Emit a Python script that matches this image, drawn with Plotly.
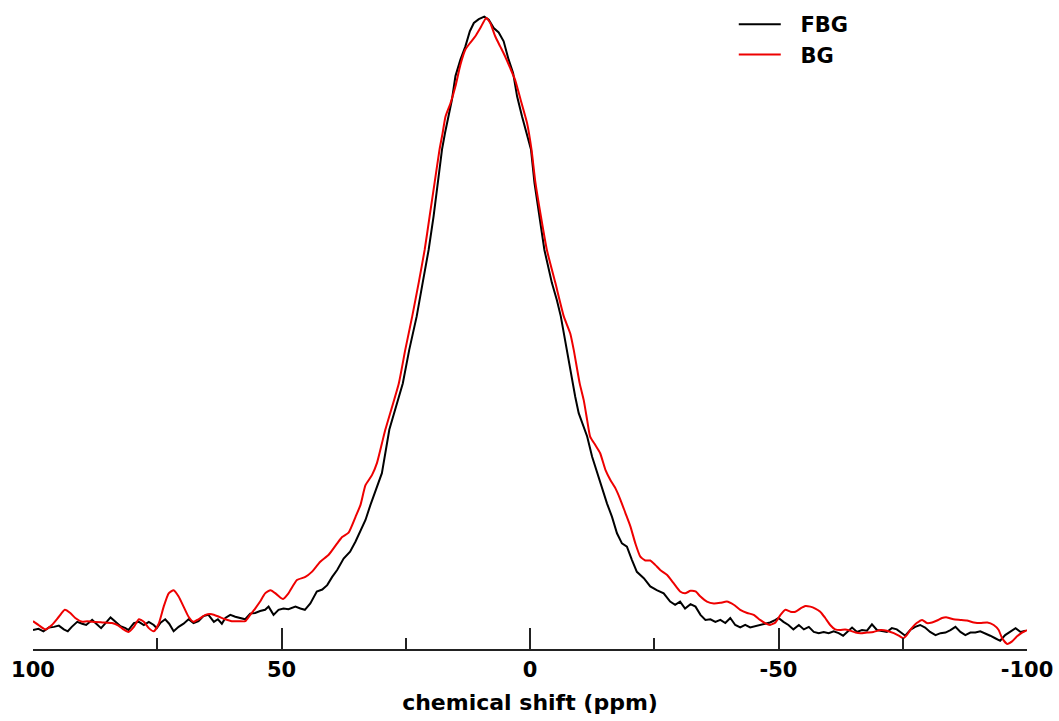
import plotly.graph_objects as go

# FBG spectrum (black), chemical shift in ppm and normalised intensity
fbg_ppm = [100.0, 98.9, 97.9, 96.8, 95.8, 94.8, 93.8, 93.0, 92.2, 91.1, 90.1, 89.3, 88.1, 87.1, 86.3, 85.4,
           84.4, 83.4, 82.4, 81.4, 80.8, 79.7, 78.7, 77.7, 76.7, 75.7, 75.1, 74.4, 73.4, 72.6, 71.7, 70.7,
           69.7, 68.7, 67.7, 66.7, 65.7, 64.7, 63.6, 62.8, 62.0, 61.3, 60.3, 59.3, 58.3, 57.3, 56.3, 55.3,
           54.3, 53.3, 52.6, 51.6, 50.6, 49.6, 48.6, 47.2, 46.2, 45.3, 44.2, 42.9, 41.8, 40.8, 39.8, 38.8,
           37.5, 36.2, 35.1, 34.1, 33.1, 32.1, 31.1, 29.8, 28.3, 25.6, 24.3, 22.8, 21.6, 20.4, 19.4, 18.5,
           17.7, 17.1, 16.4, 15.7, 15.0, 14.0, 13.0, 12.1, 11.3, 10.3, 9.2, 8.3, 7.3, 6.3, 5.3, 4.3,
           3.4, 2.6, 1.6, 0.6, -0.2, -0.9, -1.9, -2.9, -4.4, -5.4, -6.2, -7.4, -8.4, -9.1, -9.8, -10.5,
           -11.5, -12.5, -13.5, -14.5, -15.5, -16.5, -17.5, -18.5, -19.5, -20.5, -21.5, -22.9, -24.2, -25.5,
           -26.9, -28.2, -29.2, -30.2, -31.2, -32.3, -33.3, -34.3, -35.3, -36.3, -37.3, -38.3, -39.3, -40.3,
           -41.3, -42.3, -43.3, -44.3, -45.3, -46.3, -47.3, -48.3, -49.4, -50.0, -51.0, -52.0, -53.0, -54.1,
           -55.1, -56.1, -57.1, -58.1, -59.1, -60.1, -61.1, -62.1, -63.0, -63.9, -64.8, -65.8, -66.8, -67.8,
           -68.8, -69.8, -70.8, -71.8, -72.8, -73.8, -74.85, -75.5, -76.5, -77.5, -78.5, -79.5, -80.5, -81.6,
           -82.6, -83.6, -84.6, -85.6, -86.6, -87.6, -88.6, -89.6, -90.6, -91.6, -92.6, -93.6, -94.6, -95.6,
           -96.6, -97.7, -98.7, -99.7]
fbg_int = [0.030, 0.032, 0.028, 0.034, 0.035, 0.037, 0.031, 0.028, 0.035, 0.043, 0.040, 0.038, 0.046, 0.038, 0.033, 0.041,
           0.050, 0.043, 0.036, 0.033, 0.030, 0.041, 0.043, 0.038, 0.043, 0.038, 0.033, 0.041, 0.047, 0.040, 0.028, 0.035,
           0.040, 0.047, 0.041, 0.044, 0.052, 0.054, 0.043, 0.047, 0.040, 0.049, 0.054, 0.051, 0.049, 0.047, 0.056, 0.057,
           0.060, 0.062, 0.067, 0.054, 0.062, 0.064, 0.063, 0.067, 0.064, 0.062, 0.072, 0.091, 0.094, 0.101, 0.114, 0.125,
           0.143, 0.154, 0.170, 0.186, 0.204, 0.228, 0.249, 0.278, 0.347, 0.420, 0.473, 0.526, 0.579, 0.631, 0.684, 0.737,
           0.790, 0.816, 0.842, 0.869, 0.906, 0.932, 0.953, 0.977, 0.990, 0.996, 1.000, 0.995, 0.982, 0.975, 0.961, 0.932,
           0.911, 0.874, 0.842, 0.811, 0.790, 0.737, 0.684, 0.631, 0.579, 0.552, 0.526, 0.473, 0.426, 0.399, 0.373, 0.357,
           0.336, 0.304, 0.278, 0.252, 0.230, 0.209, 0.183, 0.167, 0.162, 0.141, 0.122, 0.112, 0.099, 0.093,
           0.088, 0.075, 0.070, 0.075, 0.064, 0.071, 0.067, 0.054, 0.046, 0.047, 0.043, 0.046, 0.041, 0.049,
           0.038, 0.034, 0.038, 0.034, 0.036, 0.038, 0.041, 0.042, 0.046, 0.049, 0.043, 0.038, 0.031, 0.038,
           0.031, 0.035, 0.027, 0.025, 0.027, 0.025, 0.028, 0.025, 0.021, 0.027, 0.034, 0.027, 0.030, 0.029,
           0.039, 0.030, 0.028, 0.027, 0.033, 0.031, 0.025, 0.021, 0.030, 0.035, 0.038, 0.034, 0.027, 0.022,
           0.025, 0.026, 0.030, 0.035, 0.027, 0.022, 0.026, 0.026, 0.028, 0.025, 0.021, 0.017, 0.013, 0.022,
           0.027, 0.033, 0.027, 0.029]

# BG spectrum (red)
bg_ppm = [100.0, 98.9, 97.5, 96.2, 94.8, 93.6, 92.5, 91.5, 90.1, 89.1, 88.1, 86.1, 84.1, 82.8, 81.8, 80.8,
          79.7, 78.7, 77.7, 76.7, 75.7, 74.7, 73.7, 72.7, 71.7, 70.7, 69.7, 68.7, 67.7, 66.7, 65.3, 64.0,
          62.6, 61.3, 60.0, 58.6, 57.3, 56.3, 55.3, 54.3, 53.3, 52.2, 51.2, 50.2, 49.7, 48.6, 46.9, 45.2,
          43.9, 42.2, 40.5, 38.8, 37.8, 36.5, 35.1, 34.1, 33.1, 31.8, 30.8, 29.8, 29.1, 26.4, 25.1, 23.7,
          22.4, 21.2, 20.2, 19.2, 18.2, 17.6, 17.0, 16.0, 15.0, 14.0, 13.0, 12.0, 11.0, 10.0, 8.8, 8.0,
          7.0, 6.0, 5.0, 4.0, 3.0, 1.9, 0.6, -0.3, -1.1, -2.2, -3.4, -5.1, -6.8, -8.1, -8.8, -10.0,
          -10.8, -11.5, -12.1, -13.1, -14.1, -15.2, -16.2, -17.2, -18.2, -19.2, -20.2, -21.2, -22.2, -23.2,
          -24.2, -25.2, -26.2, -27.6, -28.9, -30.2, -31.2, -32.3, -33.3, -34.3, -35.6, -37.0, -38.3, -39.6,
          -41.0, -42.3, -43.7, -45.0, -46.3, -47.3, -48.3, -49.4, -50.4, -51.4, -52.4, -53.4, -54.4, -55.4,
          -56.4, -57.4, -58.4, -59.4, -60.4, -61.4, -62.4, -63.4, -64.4, -65.5, -66.5, -67.8, -69.1, -70.5,
          -71.8, -73.2, -74.2, -75.1, -75.8, -76.8, -77.8, -78.9, -79.9, -80.9, -81.9, -82.9, -83.9, -85.2,
          -86.6, -87.9, -89.3, -90.6, -92.0, -93.3, -94.3, -95.0, -96.0, -97.0, -98.0, -99.0, -100.0]
bg_int = [0.044, 0.038, 0.031, 0.038, 0.051, 0.062, 0.057, 0.049, 0.043, 0.044, 0.043, 0.042, 0.041, 0.037, 0.031, 0.027,
          0.035, 0.047, 0.043, 0.033, 0.028, 0.040, 0.067, 0.088, 0.093, 0.083, 0.067, 0.051, 0.043, 0.047, 0.054, 0.055,
          0.051, 0.047, 0.044, 0.044, 0.044, 0.054, 0.064, 0.075, 0.088, 0.093, 0.088, 0.081, 0.079, 0.088, 0.109, 0.114,
          0.122, 0.138, 0.149, 0.167, 0.177, 0.184, 0.209, 0.228, 0.259, 0.275, 0.294, 0.325, 0.347, 0.420, 0.473, 0.526,
          0.579, 0.631, 0.684, 0.737, 0.790, 0.815, 0.842, 0.863, 0.890, 0.924, 0.948, 0.959, 0.969, 0.982, 0.998, 0.990,
          0.969, 0.953, 0.937, 0.919, 0.900, 0.869, 0.832, 0.790, 0.737, 0.684, 0.631, 0.579, 0.526, 0.499, 0.473, 0.420,
          0.394, 0.362, 0.336, 0.323, 0.310, 0.283, 0.267, 0.254, 0.236, 0.215, 0.194, 0.167, 0.146, 0.140,
          0.140, 0.133, 0.125, 0.117, 0.104, 0.091, 0.088, 0.092, 0.091, 0.083, 0.075, 0.072, 0.073, 0.075,
          0.070, 0.062, 0.057, 0.054, 0.046, 0.041, 0.038, 0.042, 0.054, 0.062, 0.059, 0.059, 0.064, 0.068,
          0.067, 0.064, 0.059, 0.049, 0.038, 0.031, 0.030, 0.031, 0.029, 0.026, 0.025, 0.026, 0.027, 0.030,
          0.029, 0.025, 0.021, 0.017, 0.022, 0.033, 0.041, 0.046, 0.041, 0.042, 0.045, 0.049, 0.050, 0.047,
          0.046, 0.045, 0.042, 0.041, 0.042, 0.038, 0.030, 0.017, 0.008, 0.012, 0.020, 0.026, 0.030]

major_ticks = [100, 50, 0, -50, -100]
major_labels = ["100", "50", "0", "-50", "-100"]
minor_ticks = [75, 25, -25, -75]

bold = dict(family="DejaVu Sans", weight="bold", color="black")
pad = "\u00a0\u00a0"  # gap between legend line and label, as in the original

fig = go.Figure()
fig.add_trace(go.Scatter(x=fbg_ppm, y=fbg_int, mode="lines", name=pad + "FBG",
                         line=dict(color="black", width=2)))
fig.add_trace(go.Scatter(x=bg_ppm, y=bg_int, mode="lines", name=pad + "BG",
                         line=dict(color="#ee0000", width=2, shape="spline", smoothing=0.5)))

fig.update_xaxes(range=[100, -100], showgrid=False, zeroline=False,
                 showline=True, linecolor="#222222", linewidth=1.5,
                 tickvals=major_ticks, ticktext=major_labels,
                 ticks="inside", ticklen=21, tickwidth=1.5, tickcolor="#222222",
                 ticklabelstandoff=1, tickfont=dict(size=21, **bold),
                 minor=dict(tickvals=minor_ticks, ticks="inside", ticklen=11,
                            tickwidth=1.5, tickcolor="#222222"),
                 title=dict(text="chemical shift (ppm)", font=dict(size=22, **bold), standoff=14))
fig.update_yaxes(visible=False, range=[0, 1.02])

fig.update_layout(width=1059, height=721, plot_bgcolor="white", paper_bgcolor="white",
                  margin=dict(l=33, r=32, t=4, b=72),
                  legend=dict(x=0.705, y=1.0, xanchor="left", yanchor="top",
                              bgcolor="rgba(0,0,0,0)", font=dict(size=21, **bold),
                              itemwidth=42))
# drop the browser's default 8px body margin so the figure sits at the page corner
fig.write_html("out.html", config={"displayModeBar": False},
               post_script="document.body.style.margin='0';")
